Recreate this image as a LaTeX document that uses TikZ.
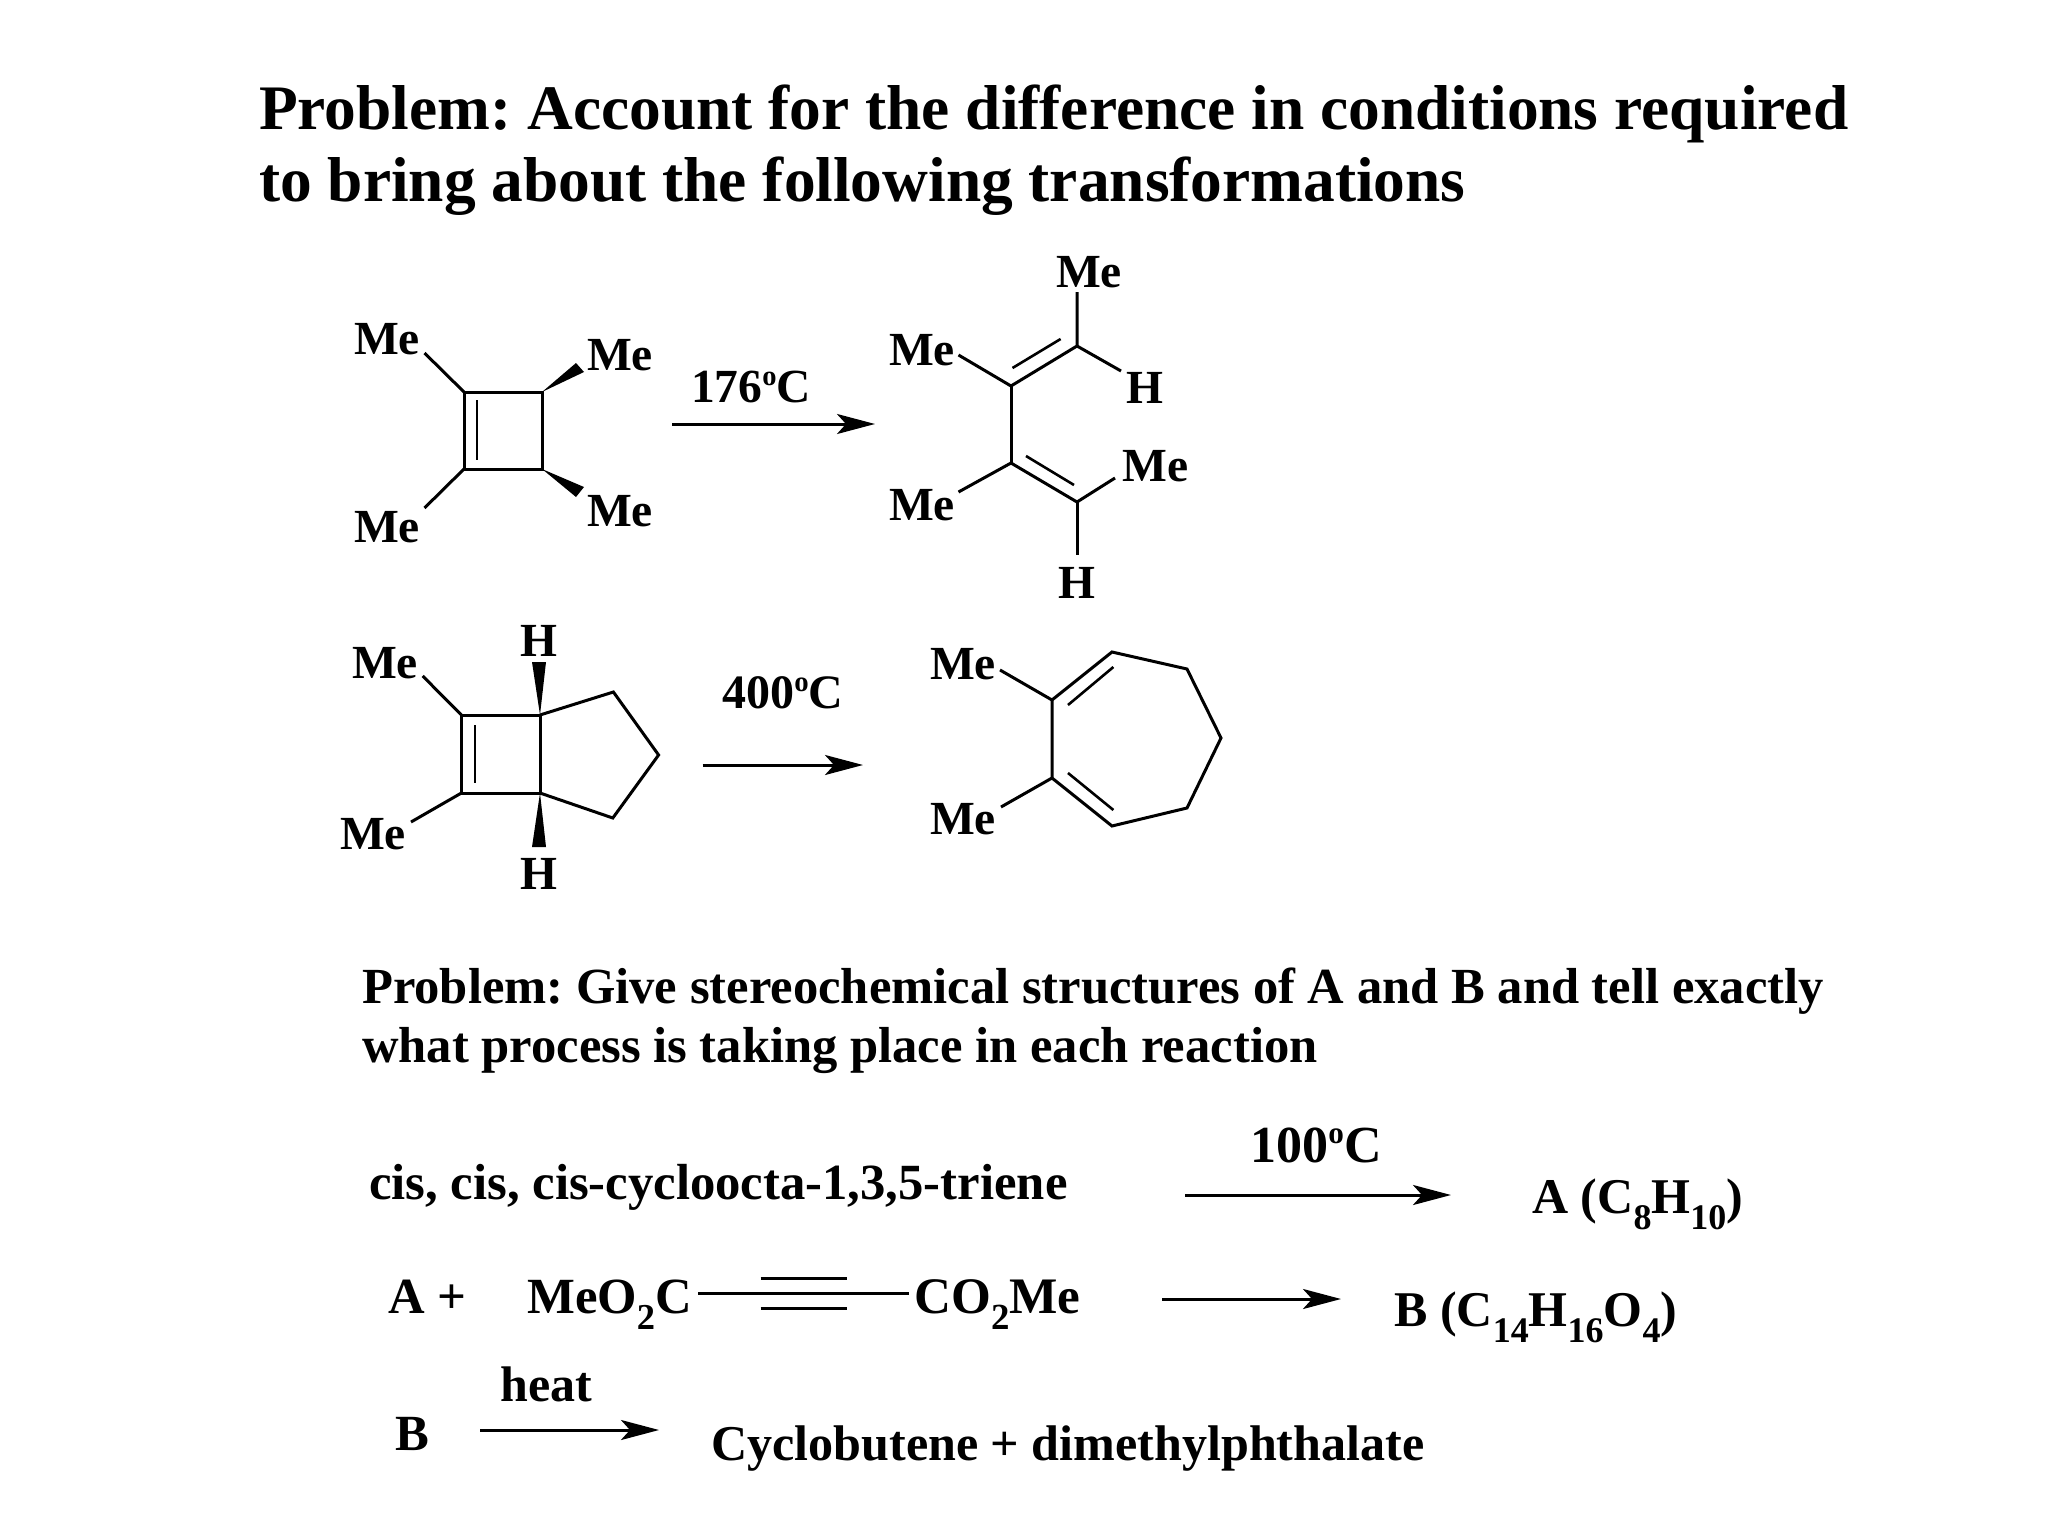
\documentclass[tikz,border=0pt]{standalone}
\usepackage{fontspec}
\usepackage{graphicx}
\setmainfont{Liberation Serif}
\usetikzlibrary{arrows.meta}
\newcommand{\sbs}[1]{\raisebox{-0.32em}{\scalebox{0.72}{#1}}}
\newcommand{\sps}[1]{\raisebox{0.36em}{\scalebox{0.6}{#1}}}
\newcommand{\fs}[1]{\fontsize{#1}{#1}\selectfont\bfseries\frenchspacing}
\tikzset{
  bond/.style={line width=3pt,line join=miter},
  inner bond/.style={line width=2.6pt},
  wedge/.style={fill=black,draw=none},
  rxn/.style={line width=3pt,-{Stealth[length=38pt,width=20pt,inset=9pt]}},
  atomlabel/.style={inner sep=0pt,font=\fs{47.5}},
  title/.style={inner sep=0pt,anchor=base west,font=\fs{63.4}},
  prob/.style={inner sep=0pt,anchor=base west,font=\fs{50.6}},
  line/.style={inner sep=0pt,anchor=base west,font=\fs{50.7}},
  cond/.style={inner sep=0pt,font=\fs{48}}
}
\begin{document}
\begin{tikzpicture}[x=1pt,y=-1pt]
\useasboundingbox (0,0) rectangle (2048,1536);
\fill[white] (0,0) rectangle (2048,1536);
% titles
\node[title] (t1) at (259,130) {Problem: Account for the difference in conditions required};
\node[title] (t2) at (259,201) {to bring about the following transformations};
\node[prob] (p1) at (362,1003) {Problem: Give stereochemical structures of A and B and tell exactly};
\node[prob] (p2) at (362,1062) {what process is taking place in each reaction};

% molecule 1
\coordinate (a1) at (464,392); \coordinate (a2) at (542,392);
\coordinate (a3) at (542,469); \coordinate (a4) at (464,469);
\coordinate (a5) at (424.5,353); \coordinate (a6) at (424.5,508);
\coordinate (a7) at (477,400); \coordinate (a8) at (477,460);
\coordinate (a9) at (576,363); \coordinate (a10) at (584,372);
\coordinate (a11) at (584,487); \coordinate (a12) at (576,497);
\draw[bond] (a1) -- (a2) -- (a3) -- (a4) -- cycle;
\draw[bond] (a1) -- (a5);
\draw[bond] (a4) -- (a6);
\draw[inner bond] (a7) -- (a8);
\fill[wedge] (a2) -- (a9) -- (a10) -- cycle;
\fill[wedge] (a3) -- (a11) -- (a12) -- cycle;
\node[atomlabel] (l1) at (387,339) {Me};
\node[atomlabel] (l2) at (620,355) {Me};
\node[atomlabel] (l3) at (387,527) {Me};
\node[atomlabel] (l4) at (620,511) {Me};

% arrow 1
\node[cond,font=\fs{47.5}] (c1) at (751,387) {176\sps{o}C};
\coordinate (r1s) at (672,424); \coordinate (r1e) at (875,424);
\draw[rxn] (r1s) -- (r1e);

% product 1
\coordinate (b1) at (1011,386); \coordinate (b2) at (1077,346);
\coordinate (b3) at (1011,463); \coordinate (b4) at (1077,502);
\coordinate (b5) at (958.5,355); \coordinate (b6) at (1077,292);
\coordinate (b7) at (1121,371); \coordinate (b8) at (958.5,492);
\coordinate (b9) at (1115,478); \coordinate (b10) at (1077,555);
\coordinate (b11) at (1012.5,368); \coordinate (b12) at (1060.6,339);
\coordinate (b13) at (1026,456); \coordinate (b14) at (1074,485);
\draw[bond] (b5) -- (b1) -- (b2) -- (b6);
\draw[bond] (b2) -- (b7);
\draw[bond] (b1) -- (b3);
\draw[bond] (b8) -- (b3) -- (b4) -- (b9);
\draw[bond] (b4) -- (b10);
\draw[inner bond] (b11) -- (b12);
\draw[inner bond] (b13) -- (b14);
\node[atomlabel] (l5) at (1089,272) {Me};
\node[atomlabel] (l6) at (922,350) {Me};
\node[atomlabel] (l7) at (1144.5,388) {H};
\node[atomlabel] (l8) at (1155.5,466) {Me};
\node[atomlabel] (l9) at (922,505) {Me};
\node[atomlabel] (l10) at (1077,583) {H};

% molecule 2
\coordinate (d1) at (461.4,715); \coordinate (d2) at (540,715);
\coordinate (d3) at (540,793); \coordinate (d4) at (461.4,793);
\coordinate (d5) at (422.7,676); \coordinate (d6) at (411,822);
\coordinate (d7) at (475,725); \coordinate (d8) at (475,783);
\coordinate (d9) at (532,662); \coordinate (d10) at (546,662);
\coordinate (d11) at (532,847); \coordinate (d12) at (546,847);
\coordinate (d13) at (613.4,692); \coordinate (d14) at (658.6,755);
\coordinate (d15) at (612.8,818);
\draw[bond] (d1) -- (d2) -- (d3) -- (d4) -- cycle;
\draw[bond] (d1) -- (d5);
\draw[bond] (d4) -- (d6);
\draw[inner bond] (d7) -- (d8);
\draw[bond] (d2) -- (d13) -- (d14) -- (d15) -- (d3);
\fill[wedge] (d2) -- (d9) -- (d10) -- cycle;
\fill[wedge] (d3) -- (d11) -- (d12) -- cycle;
\node[atomlabel] (l11) at (539,641) {H};
\node[atomlabel] (l12) at (385,663) {Me};
\node[atomlabel] (l13) at (373,834) {Me};
\node[atomlabel] (l14) at (539,874) {H};

% arrow 2
\node[cond] (c2) at (783,693) {400\sps{o}C};
\coordinate (r2s) at (702.6,765); \coordinate (r2e) at (863,765);
\draw[rxn] (r2s) -- (r2e);

% product 2
\coordinate (e1) at (1052,700); \coordinate (e2) at (1112,652);
\coordinate (e3) at (1187,669); \coordinate (e4) at (1221,738);
\coordinate (e5) at (1187,808); \coordinate (e6) at (1112,826);
\coordinate (e7) at (1052,778);
\coordinate (e8) at (1068,705); \coordinate (e9) at (1113.4,667);
\coordinate (e10) at (1068,773); \coordinate (e11) at (1113.4,810);
\coordinate (e12) at (1000,670); \coordinate (e13) at (1001,807);
\draw[bond] (e1) -- (e2) -- (e3) -- (e4) -- (e5) -- (e6) -- (e7) -- cycle;
\draw[inner bond] (e8) -- (e9);
\draw[inner bond] (e10) -- (e11);
\draw[bond] (e12) -- (e1);
\draw[bond] (e13) -- (e7);
\node[atomlabel] (l15) at (963,664) {Me};
\node[atomlabel] (l16) at (963,819) {Me};

% reaction lines
\node[line] (s1) at (369,1199) {cis, cis, cis-cycloocta-1,3,5-triene};
\node[cond,font=\fs{52}] (c3) at (1316,1145) {100\sps{o}C};
\coordinate (r3s) at (1185,1195); \coordinate (r3e) at (1451,1195);
\draw[rxn] (r3s) -- (r3e);
\node[line,font=\fs{50}] (s2) at (1532,1213) {A (C\sbs{8}H\sbs{10})};

\node[line] (s3) at (388,1313) {A +};
\node[line] (s4) at (527,1313) {MeO\sbs{2}C};
\coordinate (g1) at (698,1293); \coordinate (g2) at (909,1293);
\coordinate (g3) at (760.6,1278); \coordinate (g4) at (847,1278);
\coordinate (g5) at (760.6,1308); \coordinate (g6) at (847,1308);
\draw[bond] (g1) -- (g2);
\draw[bond] (g3) -- (g4);
\draw[bond] (g5) -- (g6);
\node[line,font=\fs{51.2}] (s5) at (914,1313) {CO\sbs{2}Me};
\coordinate (r4s) at (1162,1299); \coordinate (r4e) at (1341,1299);
\draw[rxn] (r4s) -- (r4e);
\node[line,font=\fs{50}] (s6) at (1394,1326) {B (C\sbs{14}H\sbs{16}O\sbs{4})};

\node[line,font=\fs{50}] (s7) at (500,1401) {heat};
\node[line] (s8) at (395,1450) {B};
\coordinate (r5s) at (480,1430); \coordinate (r5e) at (659,1430);
\draw[rxn] (r5s) -- (r5e);
\node[line,font=\fs{50.1}] (s9) at (711,1460) {Cyclobutene + dimethylphthalate};
\end{tikzpicture}
\end{document}
